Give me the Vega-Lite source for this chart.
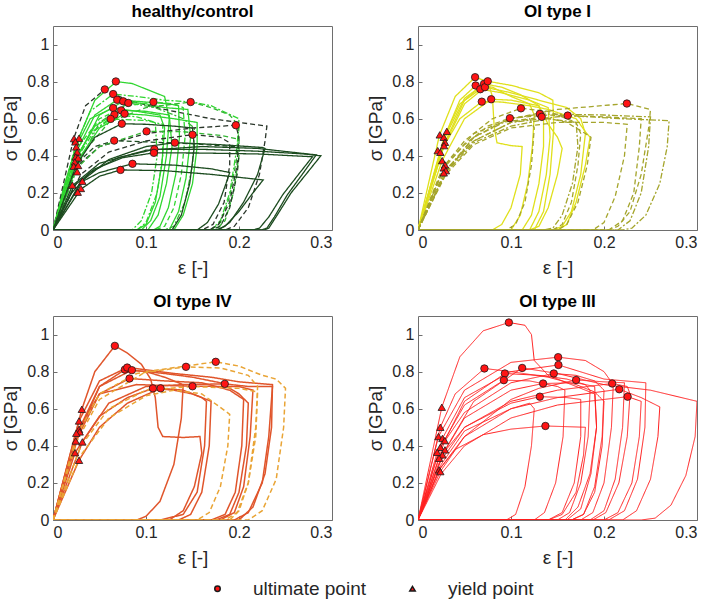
{
"$schema":"https://vega.github.io/schema/vega-lite/v6.json",
"padding":{"left":1,"top":2,"right":5,"bottom":5},
"datasets":{
"meta":[
{"c":"A1","p":"A","k":"hg","d":"s"},{"c":"A2","p":"A","k":"hk","d":"da"},{"c":"A3","p":"A","k":"hg","d":"dd"},{"c":"A4","p":"A","k":"hg","d":"s"},{"c":"A5","p":"A","k":"hg","d":"s"},{"c":"A6","p":"A","k":"hm","d":"dd"},{"c":"A7","p":"A","k":"hg","d":"da"},{"c":"A8","p":"A","k":"hm","d":"da"},{"c":"A9","p":"A","k":"hg","d":"s"},{"c":"A10","p":"A","k":"hg","d":"s"},{"c":"A11","p":"A","k":"hg","d":"dd"},{"c":"A12","p":"A","k":"hg","d":"s"},{"c":"A13","p":"A","k":"hg","d":"dd"},{"c":"A14","p":"A","k":"hd","d":"s"},{"c":"A15","p":"A","k":"hk","d":"da"},{"c":"A16","p":"A","k":"hm","d":"da"},{"c":"A17","p":"A","k":"hk","d":"da"},{"c":"A18","p":"A","k":"hd","d":"da"},{"c":"A19","p":"A","k":"hd","d":"s"},{"c":"A20","p":"A","k":"hd","d":"s"},{"c":"A21","p":"A","k":"hd","d":"s"},{"c":"A22","p":"A","k":"hd","d":"s"},{"c":"A23","p":"A","k":"hd","d":"s"},{"c":"A24","p":"A","k":"hd","d":"s"},
{"c":"B1","p":"B","k":"yy","d":"s"},{"c":"B2","p":"B","k":"yy","d":"s"},{"c":"B3","p":"B","k":"yy","d":"s"},{"c":"B4","p":"B","k":"yy","d":"s"},{"c":"B5","p":"B","k":"yy","d":"s"},{"c":"B6","p":"B","k":"yy","d":"s"},{"c":"B7","p":"B","k":"yy","d":"s"},{"c":"B8","p":"B","k":"yy","d":"s"},{"c":"B9","p":"B","k":"yo","d":"da"},{"c":"B10","p":"B","k":"yo","d":"da"},{"c":"B11","p":"B","k":"yo","d":"dd"},{"c":"B12","p":"B","k":"yo","d":"da"},{"c":"B13","p":"B","k":"yo","d":"dd"},{"c":"B14","p":"B","k":"yo","d":"da"},{"c":"B15","p":"B","k":"yo","d":"da"},{"c":"B16","p":"B","k":"yo","d":"dd"},{"c":"B17","p":"B","k":"yo","d":"da"},
{"c":"C1","p":"C","k":"cr","d":"s"},{"c":"C2","p":"C","k":"cr","d":"s"},{"c":"C3","p":"C","k":"cr","d":"s"},{"c":"C4","p":"C","k":"cr","d":"s"},{"c":"C5","p":"C","k":"cr","d":"s"},{"c":"C6","p":"C","k":"cr","d":"s"},{"c":"C7","p":"C","k":"cr","d":"s"},{"c":"C8","p":"C","k":"cr","d":"s"},{"c":"C9","p":"C","k":"cr","d":"s"},{"c":"C10","p":"C","k":"co","d":"da"},{"c":"C11","p":"C","k":"co","d":"da"},{"c":"C12","p":"C","k":"co","d":"da"},{"c":"C13","p":"C","k":"co","d":"da"},
{"c":"D1","p":"D","k":"rr","d":"s"},{"c":"D2","p":"D","k":"rr","d":"s"},{"c":"D3","p":"D","k":"rr","d":"s"},{"c":"D4","p":"D","k":"rr","d":"s"},{"c":"D5","p":"D","k":"rr","d":"s"},{"c":"D6","p":"D","k":"rr","d":"s"},{"c":"D7","p":"D","k":"rr","d":"s"},{"c":"D8","p":"D","k":"rr","d":"s"},{"c":"D9","p":"D","k":"rr","d":"s"},{"c":"D10","p":"D","k":"rr","d":"s"},{"c":"D11","p":"D","k":"rr","d":"s"},{"c":"D12","p":"D","k":"rr","d":"s"},{"c":"D13","p":"D","k":"rr","d":"s"},{"c":"D14","p":"D","k":"rr","d":"s"},{"c":"D15","p":"D","k":"rr","d":"s"},{"c":"D16","p":"D","k":"rr","d":"s"}
],
"curves":[
{"c":"A1","x":0,"y":0},{"c":"A1","x":0.012,"y":0.24},{"c":"A1","x":0.028,"y":0.5},{"c":"A1","x":0.045,"y":0.7},{"c":"A1","x":0.068,"y":0.8},{"c":"A1","x":0.085,"y":0.79},{"c":"A1","x":0.1,"y":0.76},{"c":"A1","x":0.12,"y":0.72},{"c":"A1","x":0.125,"y":0.6},{"c":"A1","x":0.122,"y":0.4},{"c":"A1","x":0.115,"y":0.18},{"c":"A1","x":0.105,"y":0.05},{"c":"A1","x":0.095,"y":0},{"c":"A1","x":0,"y":0},
{"c":"A2","x":0,"y":0},{"c":"A2","x":0.022,"y":0.49},{"c":"A2","x":0.035,"y":0.67},{"c":"A2","x":0.0557,"y":0.758},{"c":"A2","x":0.08,"y":0.7},{"c":"A2","x":0.12,"y":0.65},{"c":"A2","x":0.17,"y":0.6},{"c":"A2","x":0.23,"y":0.56},{"c":"A2","x":0.228,"y":0.48},{"c":"A2","x":0.222,"y":0.3},{"c":"A2","x":0.21,"y":0.12},{"c":"A2","x":0.195,"y":0.02},{"c":"A2","x":0.185,"y":0},{"c":"A2","x":0,"y":0},
{"c":"A3","x":0,"y":0},{"c":"A3","x":0.024,"y":0.45},{"c":"A3","x":0.04,"y":0.64},{"c":"A3","x":0.0647,"y":0.733},{"c":"A3","x":0.09,"y":0.72},{"c":"A3","x":0.12,"y":0.7},{"c":"A3","x":0.15,"y":0.69},{"c":"A3","x":0.17,"y":0.67},{"c":"A3","x":0.2,"y":0.6},{"c":"A3","x":0.198,"y":0.45},{"c":"A3","x":0.19,"y":0.2},{"c":"A3","x":0.18,"y":0.05},{"c":"A3","x":0.17,"y":0},{"c":"A3","x":0,"y":0},
{"c":"A4","x":0,"y":0},{"c":"A4","x":0.025,"y":0.42},{"c":"A4","x":0.045,"y":0.62},{"c":"A4","x":0.069,"y":0.702},{"c":"A4","x":0.1,"y":0.69},{"c":"A4","x":0.125,"y":0.68},{"c":"A4","x":0.135,"y":0.67},{"c":"A4","x":0.136,"y":0.5},{"c":"A4","x":0.132,"y":0.3},{"c":"A4","x":0.124,"y":0.12},{"c":"A4","x":0.115,"y":0.02},{"c":"A4","x":0.108,"y":0},{"c":"A4","x":0,"y":0},
{"c":"A5","x":0,"y":0},{"c":"A5","x":0.027,"y":0.4},{"c":"A5","x":0.05,"y":0.62},{"c":"A5","x":0.0755,"y":0.694},{"c":"A5","x":0.1,"y":0.68},{"c":"A5","x":0.12,"y":0.66},{"c":"A5","x":0.145,"y":0.65},{"c":"A5","x":0.148,"y":0.5},{"c":"A5","x":0.143,"y":0.28},{"c":"A5","x":0.135,"y":0.1},{"c":"A5","x":0.125,"y":0},{"c":"A5","x":0,"y":0},
{"c":"A6","x":0,"y":0},{"c":"A6","x":0.03,"y":0.38},{"c":"A6","x":0.05,"y":0.58},{"c":"A6","x":0.081,"y":0.685},{"c":"A6","x":0.11,"y":0.66},{"c":"A6","x":0.14,"y":0.6},{"c":"A6","x":0.152,"y":0.55},{"c":"A6","x":0.15,"y":0.35},{"c":"A6","x":0.142,"y":0.15},{"c":"A6","x":0.13,"y":0.02},{"c":"A6","x":0.12,"y":0},{"c":"A6","x":0,"y":0},
{"c":"A7","x":0,"y":0},{"c":"A7","x":0.026,"y":0.44},{"c":"A7","x":0.05,"y":0.6},{"c":"A7","x":0.08,"y":0.67},{"c":"A7","x":0.108,"y":0.69},{"c":"A7","x":0.13,"y":0.68},{"c":"A7","x":0.14,"y":0.66},{"c":"A7","x":0.142,"y":0.5},{"c":"A7","x":0.138,"y":0.3},{"c":"A7","x":0.13,"y":0.12},{"c":"A7","x":0.12,"y":0.02},{"c":"A7","x":0.11,"y":0},{"c":"A7","x":0,"y":0},
{"c":"A8","x":0,"y":0},{"c":"A8","x":0.028,"y":0.39},{"c":"A8","x":0.06,"y":0.58},{"c":"A8","x":0.1,"y":0.66},{"c":"A8","x":0.148,"y":0.69},{"c":"A8","x":0.17,"y":0.66},{"c":"A8","x":0.19,"y":0.62},{"c":"A8","x":0.2,"y":0.56},{"c":"A8","x":0.198,"y":0.4},{"c":"A8","x":0.19,"y":0.18},{"c":"A8","x":0.18,"y":0.04},{"c":"A8","x":0.17,"y":0},{"c":"A8","x":0,"y":0},
{"c":"A9","x":0,"y":0},{"c":"A9","x":0.024,"y":0.44},{"c":"A9","x":0.04,"y":0.6},{"c":"A9","x":0.0647,"y":0.658},{"c":"A9","x":0.09,"y":0.64},{"c":"A9","x":0.115,"y":0.62},{"c":"A9","x":0.12,"y":0.55},{"c":"A9","x":0.117,"y":0.35},{"c":"A9","x":0.11,"y":0.15},{"c":"A9","x":0.1,"y":0.03},{"c":"A9","x":0.09,"y":0},{"c":"A9","x":0,"y":0},
{"c":"A10","x":0,"y":0},{"c":"A10","x":0.026,"y":0.4},{"c":"A10","x":0.045,"y":0.56},{"c":"A10","x":0.0733,"y":0.645},{"c":"A10","x":0.1,"y":0.64},{"c":"A10","x":0.125,"y":0.62},{"c":"A10","x":0.128,"y":0.45},{"c":"A10","x":0.122,"y":0.25},{"c":"A10","x":0.113,"y":0.08},{"c":"A10","x":0.102,"y":0},{"c":"A10","x":0,"y":0},
{"c":"A11","x":0,"y":0},{"c":"A11","x":0.025,"y":0.38},{"c":"A11","x":0.045,"y":0.54},{"c":"A11","x":0.066,"y":0.622},{"c":"A11","x":0.09,"y":0.61},{"c":"A11","x":0.11,"y":0.58},{"c":"A11","x":0.112,"y":0.4},{"c":"A11","x":0.106,"y":0.2},{"c":"A11","x":0.095,"y":0.05},{"c":"A11","x":0.085,"y":0},{"c":"A11","x":0,"y":0},
{"c":"A12","x":0,"y":0},{"c":"A12","x":0.03,"y":0.4},{"c":"A12","x":0.05,"y":0.55},{"c":"A12","x":0.077,"y":0.627},{"c":"A12","x":0.1,"y":0.62},{"c":"A12","x":0.13,"y":0.6},{"c":"A12","x":0.155,"y":0.58},{"c":"A12","x":0.155,"y":0.45},{"c":"A12","x":0.15,"y":0.25},{"c":"A12","x":0.14,"y":0.08},{"c":"A12","x":0.13,"y":0},{"c":"A12","x":0,"y":0},
{"c":"A13","x":0,"y":0},{"c":"A13","x":0.024,"y":0.38},{"c":"A13","x":0.04,"y":0.52},{"c":"A13","x":0.062,"y":0.599},{"c":"A13","x":0.1,"y":0.59},{"c":"A13","x":0.118,"y":0.57},{"c":"A13","x":0.118,"y":0.4},{"c":"A13","x":0.112,"y":0.2},{"c":"A13","x":0.1,"y":0.04},{"c":"A13","x":0.09,"y":0},{"c":"A13","x":0,"y":0},
{"c":"A14","x":0,"y":0},{"c":"A14","x":0.025,"y":0.35},{"c":"A14","x":0.045,"y":0.5},{"c":"A14","x":0.074,"y":0.573},{"c":"A14","x":0.1,"y":0.57},{"c":"A14","x":0.13,"y":0.56},{"c":"A14","x":0.15,"y":0.55},{"c":"A14","x":0.152,"y":0.45},{"c":"A14","x":0.147,"y":0.25},{"c":"A14","x":0.138,"y":0.08},{"c":"A14","x":0.128,"y":0},{"c":"A14","x":0,"y":0},
{"c":"A15","x":0,"y":0},{"c":"A15","x":0.025,"y":0.34},{"c":"A15","x":0.05,"y":0.45},{"c":"A15","x":0.1,"y":0.52},{"c":"A15","x":0.15,"y":0.55},{"c":"A15","x":0.1966,"y":0.565},{"c":"A15","x":0.2,"y":0.5},{"c":"A15","x":0.198,"y":0.35},{"c":"A15","x":0.19,"y":0.15},{"c":"A15","x":0.178,"y":0.03},{"c":"A15","x":0.168,"y":0},{"c":"A15","x":0,"y":0},
{"c":"A16","x":0,"y":0},{"c":"A16","x":0.025,"y":0.33},{"c":"A16","x":0.05,"y":0.45},{"c":"A16","x":0.1006,"y":0.532},{"c":"A16","x":0.14,"y":0.53},{"c":"A16","x":0.18,"y":0.51},{"c":"A16","x":0.2,"y":0.49},{"c":"A16","x":0.2,"y":0.4},{"c":"A16","x":0.194,"y":0.2},{"c":"A16","x":0.185,"y":0.05},{"c":"A16","x":0.175,"y":0},{"c":"A16","x":0,"y":0},
{"c":"A17","x":0,"y":0},{"c":"A17","x":0.03,"y":0.3},{"c":"A17","x":0.06,"y":0.42},{"c":"A17","x":0.1,"y":0.48},{"c":"A17","x":0.15,"y":0.514},{"c":"A17","x":0.18,"y":0.5},{"c":"A17","x":0.19,"y":0.47},{"c":"A17","x":0.19,"y":0.35},{"c":"A17","x":0.184,"y":0.15},{"c":"A17","x":0.172,"y":0.03},{"c":"A17","x":0.16,"y":0},{"c":"A17","x":0,"y":0},
{"c":"A18","x":0,"y":0},{"c":"A18","x":0.026,"y":0.36},{"c":"A18","x":0.045,"y":0.45},{"c":"A18","x":0.0658,"y":0.482},{"c":"A18","x":0.1,"y":0.475},{"c":"A18","x":0.15,"y":0.465},{"c":"A18","x":0.195,"y":0.45},{"c":"A18","x":0.2,"y":0.4},{"c":"A18","x":0.198,"y":0.3},{"c":"A18","x":0.19,"y":0.12},{"c":"A18","x":0.18,"y":0.02},{"c":"A18","x":0.17,"y":0},{"c":"A18","x":0,"y":0},
{"c":"A19","x":0,"y":0},{"c":"A19","x":0.03,"y":0.26},{"c":"A19","x":0.06,"y":0.38},{"c":"A19","x":0.1,"y":0.45},{"c":"A19","x":0.131,"y":0.471},{"c":"A19","x":0.18,"y":0.46},{"c":"A19","x":0.225,"y":0.445},{"c":"A19","x":0.228,"y":0.44},{"c":"A19","x":0.22,"y":0.3},{"c":"A19","x":0.205,"y":0.15},{"c":"A19","x":0.19,"y":0.04},{"c":"A19","x":0.178,"y":0},{"c":"A19","x":0,"y":0},
{"c":"A20","x":0,"y":0},{"c":"A20","x":0.02,"y":0.2},{"c":"A20","x":0.04,"y":0.31},{"c":"A20","x":0.07,"y":0.39},{"c":"A20","x":0.109,"y":0.435},{"c":"A20","x":0.16,"y":0.435},{"c":"A20","x":0.22,"y":0.425},{"c":"A20","x":0.27,"y":0.41},{"c":"A20","x":0.288,"y":0.4},{"c":"A20","x":0.272,"y":0.3},{"c":"A20","x":0.256,"y":0.2},{"c":"A20","x":0.241,"y":0.08},{"c":"A20","x":0.232,"y":0.01},{"c":"A20","x":0.227,"y":0},{"c":"A20","x":0,"y":0},
{"c":"A21","x":0,"y":0},{"c":"A21","x":0.023,"y":0.24},{"c":"A21","x":0.045,"y":0.33},{"c":"A21","x":0.075,"y":0.39},{"c":"A21","x":0.1085,"y":0.416},{"c":"A21","x":0.16,"y":0.415},{"c":"A21","x":0.22,"y":0.41},{"c":"A21","x":0.279,"y":0.395},{"c":"A21","x":0.264,"y":0.3},{"c":"A21","x":0.247,"y":0.19},{"c":"A21","x":0.232,"y":0.07},{"c":"A21","x":0.222,"y":0.01},{"c":"A21","x":0.215,"y":0},{"c":"A21","x":0,"y":0},
{"c":"A22","x":0,"y":0},{"c":"A22","x":0.031,"y":0.26},{"c":"A22","x":0.05,"y":0.31},{"c":"A22","x":0.0855,"y":0.357},{"c":"A22","x":0.13,"y":0.35},{"c":"A22","x":0.17,"y":0.33},{"c":"A22","x":0.19,"y":0.31},{"c":"A22","x":0.186,"y":0.25},{"c":"A22","x":0.178,"y":0.14},{"c":"A22","x":0.166,"y":0.04},{"c":"A22","x":0.155,"y":0},{"c":"A22","x":0,"y":0},
{"c":"A23","x":0,"y":0},{"c":"A23","x":0.03,"y":0.22},{"c":"A23","x":0.05,"y":0.29},{"c":"A23","x":0.0726,"y":0.324},{"c":"A23","x":0.12,"y":0.32},{"c":"A23","x":0.17,"y":0.3},{"c":"A23","x":0.226,"y":0.27},{"c":"A23","x":0.215,"y":0.2},{"c":"A23","x":0.2,"y":0.1},{"c":"A23","x":0.185,"y":0.02},{"c":"A23","x":0.175,"y":0},{"c":"A23","x":0,"y":0},
{"c":"A24","x":0,"y":0},{"c":"A24","x":0.021,"y":0.24},{"c":"A24","x":0.05,"y":0.36},{"c":"A24","x":0.1,"y":0.43},{"c":"A24","x":0.16,"y":0.45},{"c":"A24","x":0.22,"y":0.44},{"c":"A24","x":0.283,"y":0.405},{"c":"A24","x":0.268,"y":0.3},{"c":"A24","x":0.252,"y":0.19},{"c":"A24","x":0.238,"y":0.07},{"c":"A24","x":0.23,"y":0.01},{"c":"A24","x":0.224,"y":0},{"c":"A24","x":0,"y":0},
{"c":"B1","x":0,"y":0},{"c":"B1","x":0.023,"y":0.51},{"c":"B1","x":0.04,"y":0.72},{"c":"B1","x":0.0614,"y":0.824},{"c":"B1","x":0.075,"y":0.8},{"c":"B1","x":0.08,"y":0.72},{"c":"B1","x":0.082,"y":0.55},{"c":"B1","x":0.085,"y":0.47},{"c":"B1","x":0.1,"y":0.455},{"c":"B1","x":0.112,"y":0.45},{"c":"B1","x":0.11,"y":0.3},{"c":"B1","x":0.1,"y":0.12},{"c":"B1","x":0.09,"y":0.03},{"c":"B1","x":0.08,"y":0},{"c":"B1","x":0,"y":0},
{"c":"B2","x":0,"y":0},{"c":"B2","x":0.031,"y":0.532},{"c":"B2","x":0.045,"y":0.7},{"c":"B2","x":0.062,"y":0.779},{"c":"B2","x":0.08,"y":0.77},{"c":"B2","x":0.1,"y":0.72},{"c":"B2","x":0.12,"y":0.68},{"c":"B2","x":0.125,"y":0.62},{"c":"B2","x":0.123,"y":0.45},{"c":"B2","x":0.118,"y":0.25},{"c":"B2","x":0.11,"y":0.08},{"c":"B2","x":0.1,"y":0},{"c":"B2","x":0,"y":0},
{"c":"B3","x":0,"y":0},{"c":"B3","x":0.028,"y":0.5},{"c":"B3","x":0.045,"y":0.68},{"c":"B3","x":0.067,"y":0.759},{"c":"B3","x":0.09,"y":0.74},{"c":"B3","x":0.12,"y":0.7},{"c":"B3","x":0.14,"y":0.66},{"c":"B3","x":0.142,"y":0.5},{"c":"B3","x":0.138,"y":0.3},{"c":"B3","x":0.13,"y":0.1},{"c":"B3","x":0.12,"y":0},{"c":"B3","x":0,"y":0},
{"c":"B4","x":0,"y":0},{"c":"B4","x":0.029,"y":0.473},{"c":"B4","x":0.05,"y":0.7},{"c":"B4","x":0.071,"y":0.788},{"c":"B4","x":0.09,"y":0.77},{"c":"B4","x":0.11,"y":0.73},{"c":"B4","x":0.13,"y":0.67},{"c":"B4","x":0.14,"y":0.57},{"c":"B4","x":0.15,"y":0.5},{"c":"B4","x":0.155,"y":0.44},{"c":"B4","x":0.15,"y":0.3},{"c":"B4","x":0.14,"y":0.12},{"c":"B4","x":0.13,"y":0.02},{"c":"B4","x":0.12,"y":0},{"c":"B4","x":0,"y":0},
{"c":"B5","x":0,"y":0},{"c":"B5","x":0.028,"y":0.455},{"c":"B5","x":0.05,"y":0.68},{"c":"B5","x":0.072,"y":0.77},{"c":"B5","x":0.1,"y":0.74},{"c":"B5","x":0.13,"y":0.7},{"c":"B5","x":0.16,"y":0.66},{"c":"B5","x":0.175,"y":0.6},{"c":"B5","x":0.18,"y":0.52},{"c":"B5","x":0.175,"y":0.3},{"c":"B5","x":0.165,"y":0.1},{"c":"B5","x":0.155,"y":0.02},{"c":"B5","x":0.145,"y":0},{"c":"B5","x":0,"y":0},
{"c":"B6","x":0,"y":0},{"c":"B6","x":0.029,"y":0.5},{"c":"B6","x":0.05,"y":0.71},{"c":"B6","x":0.075,"y":0.802},{"c":"B6","x":0.1,"y":0.78},{"c":"B6","x":0.13,"y":0.74},{"c":"B6","x":0.145,"y":0.7},{"c":"B6","x":0.146,"y":0.55},{"c":"B6","x":0.142,"y":0.3},{"c":"B6","x":0.135,"y":0.1},{"c":"B6","x":0.125,"y":0},{"c":"B6","x":0,"y":0},
{"c":"B7","x":0,"y":0},{"c":"B7","x":0.024,"y":0.42},{"c":"B7","x":0.045,"y":0.6},{"c":"B7","x":0.0686,"y":0.692},{"c":"B7","x":0.09,"y":0.69},{"c":"B7","x":0.12,"y":0.67},{"c":"B7","x":0.14,"y":0.65},{"c":"B7","x":0.17,"y":0.6},{"c":"B7","x":0.18,"y":0.53},{"c":"B7","x":0.185,"y":0.5},{"c":"B7","x":0.18,"y":0.35},{"c":"B7","x":0.17,"y":0.15},{"c":"B7","x":0.16,"y":0.03},{"c":"B7","x":0.15,"y":0},{"c":"B7","x":0,"y":0},
{"c":"B8","x":0,"y":0},{"c":"B8","x":0.026,"y":0.374},{"c":"B8","x":0.05,"y":0.6},{"c":"B8","x":0.0787,"y":0.705},{"c":"B8","x":0.1,"y":0.7},{"c":"B8","x":0.13,"y":0.67},{"c":"B8","x":0.135,"y":0.6},{"c":"B8","x":0.135,"y":0.45},{"c":"B8","x":0.13,"y":0.25},{"c":"B8","x":0.122,"y":0.08},{"c":"B8","x":0.112,"y":0},{"c":"B8","x":0,"y":0},
{"c":"B9","x":0,"y":0},{"c":"B9","x":0.029,"y":0.351},{"c":"B9","x":0.05,"y":0.48},{"c":"B9","x":0.08,"y":0.6},{"c":"B9","x":0.1107,"y":0.656},{"c":"B9","x":0.14,"y":0.64},{"c":"B9","x":0.17,"y":0.58},{"c":"B9","x":0.175,"y":0.52},{"c":"B9","x":0.172,"y":0.35},{"c":"B9","x":0.165,"y":0.15},{"c":"B9","x":0.155,"y":0.03},{"c":"B9","x":0.145,"y":0},{"c":"B9","x":0,"y":0},
{"c":"B10","x":0,"y":0},{"c":"B10","x":0.028,"y":0.335},{"c":"B10","x":0.05,"y":0.46},{"c":"B10","x":0.075,"y":0.56},{"c":"B10","x":0.0988,"y":0.603},{"c":"B10","x":0.14,"y":0.62},{"c":"B10","x":0.2,"y":0.61},{"c":"B10","x":0.24,"y":0.6},{"c":"B10","x":0.238,"y":0.45},{"c":"B10","x":0.232,"y":0.2},{"c":"B10","x":0.22,"y":0.05},{"c":"B10","x":0.205,"y":0},{"c":"B10","x":0,"y":0},
{"c":"B11","x":0,"y":0},{"c":"B11","x":0.03,"y":0.32},{"c":"B11","x":0.06,"y":0.5},{"c":"B11","x":0.1,"y":0.6},{"c":"B11","x":0.131,"y":0.626},{"c":"B11","x":0.2,"y":0.62},{"c":"B11","x":0.25,"y":0.61},{"c":"B11","x":0.248,"y":0.45},{"c":"B11","x":0.24,"y":0.2},{"c":"B11","x":0.228,"y":0.05},{"c":"B11","x":0.215,"y":0},{"c":"B11","x":0,"y":0},
{"c":"B12","x":0,"y":0},{"c":"B12","x":0.0277,"y":0.308},{"c":"B12","x":0.06,"y":0.48},{"c":"B12","x":0.1,"y":0.58},{"c":"B12","x":0.133,"y":0.61},{"c":"B12","x":0.16,"y":0.58},{"c":"B12","x":0.18,"y":0.52},{"c":"B12","x":0.186,"y":0.5},{"c":"B12","x":0.182,"y":0.35},{"c":"B12","x":0.172,"y":0.15},{"c":"B12","x":0.16,"y":0.03},{"c":"B12","x":0.15,"y":0},{"c":"B12","x":0,"y":0},
{"c":"B13","x":0,"y":0},{"c":"B13","x":0.025,"y":0.3},{"c":"B13","x":0.06,"y":0.48},{"c":"B13","x":0.1,"y":0.58},{"c":"B13","x":0.161,"y":0.617},{"c":"B13","x":0.22,"y":0.6},{"c":"B13","x":0.27,"y":0.59},{"c":"B13","x":0.268,"y":0.45},{"c":"B13","x":0.26,"y":0.25},{"c":"B13","x":0.245,"y":0.08},{"c":"B13","x":0.23,"y":0.01},{"c":"B13","x":0.22,"y":0},{"c":"B13","x":0,"y":0},
{"c":"B14","x":0,"y":0},{"c":"B14","x":0.026,"y":0.33},{"c":"B14","x":0.06,"y":0.52},{"c":"B14","x":0.1,"y":0.6},{"c":"B14","x":0.15,"y":0.65},{"c":"B14","x":0.2246,"y":0.682},{"c":"B14","x":0.25,"y":0.65},{"c":"B14","x":0.248,"y":0.55},{"c":"B14","x":0.24,"y":0.3},{"c":"B14","x":0.228,"y":0.1},{"c":"B14","x":0.215,"y":0.02},{"c":"B14","x":0.205,"y":0},{"c":"B14","x":0,"y":0},
{"c":"B15","x":0,"y":0},{"c":"B15","x":0.03,"y":0.3},{"c":"B15","x":0.06,"y":0.46},{"c":"B15","x":0.1,"y":0.55},{"c":"B15","x":0.15,"y":0.58},{"c":"B15","x":0.2,"y":0.58},{"c":"B15","x":0.225,"y":0.57},{"c":"B15","x":0.222,"y":0.4},{"c":"B15","x":0.212,"y":0.18},{"c":"B15","x":0.2,"y":0.04},{"c":"B15","x":0.188,"y":0},{"c":"B15","x":0,"y":0},
{"c":"B16","x":0,"y":0},{"c":"B16","x":0.03,"y":0.31},{"c":"B16","x":0.06,"y":0.47},{"c":"B16","x":0.1,"y":0.56},{"c":"B16","x":0.14,"y":0.6},{"c":"B16","x":0.17,"y":0.58},{"c":"B16","x":0.172,"y":0.45},{"c":"B16","x":0.166,"y":0.25},{"c":"B16","x":0.155,"y":0.08},{"c":"B16","x":0.145,"y":0.01},{"c":"B16","x":0.135,"y":0},{"c":"B16","x":0,"y":0},
{"c":"B17","x":0,"y":0},{"c":"B17","x":0.03,"y":0.31},{"c":"B17","x":0.06,"y":0.5},{"c":"B17","x":0.09,"y":0.58},{"c":"B17","x":0.12,"y":0.6},{"c":"B17","x":0.125,"y":0.55},{"c":"B17","x":0.122,"y":0.35},{"c":"B17","x":0.115,"y":0.15},{"c":"B17","x":0.105,"y":0.03},{"c":"B17","x":0.095,"y":0},{"c":"B17","x":0,"y":0},
{"c":"C1","x":0,"y":0},{"c":"C1","x":0.031,"y":0.597},{"c":"C1","x":0.045,"y":0.8},{"c":"C1","x":0.0665,"y":0.939},{"c":"C1","x":0.08,"y":0.9},{"c":"C1","x":0.095,"y":0.84},{"c":"C1","x":0.105,"y":0.76},{"c":"C1","x":0.11,"y":0.66},{"c":"C1","x":0.113,"y":0.5},{"c":"C1","x":0.118,"y":0.45},{"c":"C1","x":0.14,"y":0.445},{"c":"C1","x":0.158,"y":0.45},{"c":"C1","x":0.16,"y":0.36},{"c":"C1","x":0.152,"y":0.18},{"c":"C1","x":0.14,"y":0.05},{"c":"C1","x":0.125,"y":0},{"c":"C1","x":0,"y":0},
{"c":"C2","x":0,"y":0},{"c":"C2","x":0.028,"y":0.534},{"c":"C2","x":0.05,"y":0.75},{"c":"C2","x":0.0798,"y":0.822},{"c":"C2","x":0.1,"y":0.81},{"c":"C2","x":0.13,"y":0.79},{"c":"C2","x":0.17,"y":0.77},{"c":"C2","x":0.2,"y":0.745},{"c":"C2","x":0.236,"y":0.73},{"c":"C2","x":0.235,"y":0.5},{"c":"C2","x":0.228,"y":0.25},{"c":"C2","x":0.215,"y":0.07},{"c":"C2","x":0.2,"y":0},{"c":"C2","x":0,"y":0},
{"c":"C3","x":0,"y":0},{"c":"C3","x":0.0287,"y":0.475},{"c":"C3","x":0.05,"y":0.72},{"c":"C3","x":0.0773,"y":0.811},{"c":"C3","x":0.1,"y":0.8},{"c":"C3","x":0.12,"y":0.77},{"c":"C3","x":0.135,"y":0.74},{"c":"C3","x":0.14,"y":0.73},{"c":"C3","x":0.138,"y":0.55},{"c":"C3","x":0.13,"y":0.3},{"c":"C3","x":0.115,"y":0.1},{"c":"C3","x":0.1,"y":0.02},{"c":"C3","x":0.09,"y":0},{"c":"C3","x":0,"y":0},
{"c":"C4","x":0,"y":0},{"c":"C4","x":0.028,"y":0.489},{"c":"C4","x":0.05,"y":0.72},{"c":"C4","x":0.0848,"y":0.808},{"c":"C4","x":0.12,"y":0.79},{"c":"C4","x":0.15,"y":0.77},{"c":"C4","x":0.18,"y":0.74},{"c":"C4","x":0.2,"y":0.68},{"c":"C4","x":0.21,"y":0.63},{"c":"C4","x":0.208,"y":0.4},{"c":"C4","x":0.2,"y":0.15},{"c":"C4","x":0.19,"y":0.03},{"c":"C4","x":0.175,"y":0},{"c":"C4","x":0,"y":0},
{"c":"C5","x":0,"y":0},{"c":"C5","x":0.0244,"y":0.426},{"c":"C5","x":0.05,"y":0.68},{"c":"C5","x":0.0823,"y":0.763},{"c":"C5","x":0.12,"y":0.75},{"c":"C5","x":0.16,"y":0.74},{"c":"C5","x":0.19,"y":0.7},{"c":"C5","x":0.205,"y":0.65},{"c":"C5","x":0.203,"y":0.4},{"c":"C5","x":0.196,"y":0.15},{"c":"C5","x":0.185,"y":0.03},{"c":"C5","x":0.17,"y":0},{"c":"C5","x":0,"y":0},
{"c":"C6","x":0,"y":0},{"c":"C6","x":0.0237,"y":0.363},{"c":"C6","x":0.05,"y":0.56},{"c":"C6","x":0.08,"y":0.66},{"c":"C6","x":0.1074,"y":0.71},{"c":"C6","x":0.13,"y":0.7},{"c":"C6","x":0.15,"y":0.68},{"c":"C6","x":0.17,"y":0.64},{"c":"C6","x":0.168,"y":0.4},{"c":"C6","x":0.16,"y":0.15},{"c":"C6","x":0.148,"y":0.03},{"c":"C6","x":0.135,"y":0},{"c":"C6","x":0,"y":0},
{"c":"C7","x":0,"y":0},{"c":"C7","x":0.028,"y":0.322},{"c":"C7","x":0.05,"y":0.5},{"c":"C7","x":0.08,"y":0.63},{"c":"C7","x":0.1157,"y":0.71},{"c":"C7","x":0.14,"y":0.7},{"c":"C7","x":0.16,"y":0.66},{"c":"C7","x":0.165,"y":0.64},{"c":"C7","x":0.163,"y":0.4},{"c":"C7","x":0.155,"y":0.15},{"c":"C7","x":0.14,"y":0.03},{"c":"C7","x":0.115,"y":0},{"c":"C7","x":0,"y":0},
{"c":"C8","x":0,"y":0},{"c":"C8","x":0.025,"y":0.468},{"c":"C8","x":0.05,"y":0.68},{"c":"C8","x":0.09,"y":0.73},{"c":"C8","x":0.15,"y":0.721},{"c":"C8","x":0.2,"y":0.72},{"c":"C8","x":0.215,"y":0.7},{"c":"C8","x":0.212,"y":0.45},{"c":"C8","x":0.205,"y":0.18},{"c":"C8","x":0.195,"y":0.04},{"c":"C8","x":0.18,"y":0},{"c":"C8","x":0,"y":0},
{"c":"C9","x":0,"y":0},{"c":"C9","x":0.0316,"y":0.421},{"c":"C9","x":0.06,"y":0.63},{"c":"C9","x":0.1,"y":0.72},{"c":"C9","x":0.14,"y":0.73},{"c":"C9","x":0.1847,"y":0.734},{"c":"C9","x":0.21,"y":0.72},{"c":"C9","x":0.236,"y":0.72},{"c":"C9","x":0.232,"y":0.45},{"c":"C9","x":0.225,"y":0.2},{"c":"C9","x":0.21,"y":0.04},{"c":"C9","x":0.195,"y":0},{"c":"C9","x":0,"y":0},
{"c":"C10","x":0,"y":0},{"c":"C10","x":0.025,"y":0.45},{"c":"C10","x":0.05,"y":0.68},{"c":"C10","x":0.09,"y":0.79},{"c":"C10","x":0.143,"y":0.826},{"c":"C10","x":0.18,"y":0.82},{"c":"C10","x":0.21,"y":0.78},{"c":"C10","x":0.22,"y":0.72},{"c":"C10","x":0.218,"y":0.5},{"c":"C10","x":0.21,"y":0.2},{"c":"C10","x":0.198,"y":0.04},{"c":"C10","x":0.185,"y":0},{"c":"C10","x":0,"y":0},
{"c":"C11","x":0,"y":0},{"c":"C11","x":0.025,"y":0.42},{"c":"C11","x":0.05,"y":0.65},{"c":"C11","x":0.1,"y":0.8},{"c":"C11","x":0.175,"y":0.853},{"c":"C11","x":0.2,"y":0.83},{"c":"C11","x":0.225,"y":0.78},{"c":"C11","x":0.24,"y":0.76},{"c":"C11","x":0.25,"y":0.71},{"c":"C11","x":0.248,"y":0.5},{"c":"C11","x":0.24,"y":0.22},{"c":"C11","x":0.225,"y":0.05},{"c":"C11","x":0.21,"y":0},{"c":"C11","x":0,"y":0},
{"c":"C12","x":0,"y":0},{"c":"C12","x":0.03,"y":0.35},{"c":"C12","x":0.06,"y":0.55},{"c":"C12","x":0.1,"y":0.67},{"c":"C12","x":0.13,"y":0.7},{"c":"C12","x":0.16,"y":0.68},{"c":"C12","x":0.19,"y":0.57},{"c":"C12","x":0.188,"y":0.4},{"c":"C12","x":0.18,"y":0.18},{"c":"C12","x":0.168,"y":0.04},{"c":"C12","x":0.155,"y":0},{"c":"C12","x":0,"y":0},
{"c":"C13","x":0,"y":0},{"c":"C13","x":0.03,"y":0.4},{"c":"C13","x":0.06,"y":0.6},{"c":"C13","x":0.1,"y":0.7},{"c":"C13","x":0.15,"y":0.72},{"c":"C13","x":0.2,"y":0.71},{"c":"C13","x":0.22,"y":0.69},{"c":"C13","x":0.218,"y":0.45},{"c":"C13","x":0.21,"y":0.2},{"c":"C13","x":0.2,"y":0.05},{"c":"C13","x":0.19,"y":0},{"c":"C13","x":0,"y":0},
{"c":"D1","x":0,"y":0},{"c":"D1","x":0.0256,"y":0.608},{"c":"D1","x":0.045,"y":0.88},{"c":"D1","x":0.07,"y":1.02},{"c":"D1","x":0.0977,"y":1.065},{"c":"D1","x":0.115,"y":1.05},{"c":"D1","x":0.122,"y":1.0},{"c":"D1","x":0.125,"y":0.86},{"c":"D1","x":0.14,"y":0.78},{"c":"D1","x":0.17,"y":0.72},{"c":"D1","x":0.19,"y":0.68},{"c":"D1","x":0.192,"y":0.5},{"c":"D1","x":0.185,"y":0.25},{"c":"D1","x":0.172,"y":0.07},{"c":"D1","x":0.158,"y":0},{"c":"D1","x":0,"y":0},
{"c":"D2","x":0,"y":0},{"c":"D2","x":0.024,"y":0.5},{"c":"D2","x":0.04,"y":0.68},{"c":"D2","x":0.0714,"y":0.817},{"c":"D2","x":0.1,"y":0.8},{"c":"D2","x":0.14,"y":0.77},{"c":"D2","x":0.17,"y":0.73},{"c":"D2","x":0.19,"y":0.69},{"c":"D2","x":0.2,"y":0.64},{"c":"D2","x":0.198,"y":0.4},{"c":"D2","x":0.19,"y":0.15},{"c":"D2","x":0.178,"y":0.03},{"c":"D2","x":0.165,"y":0},{"c":"D2","x":0,"y":0},
{"c":"D3","x":0,"y":0},{"c":"D3","x":0.022,"y":0.45},{"c":"D3","x":0.05,"y":0.7},{"c":"D3","x":0.1,"y":0.85},{"c":"D3","x":0.1507,"y":0.878},{"c":"D3","x":0.18,"y":0.86},{"c":"D3","x":0.2,"y":0.8},{"c":"D3","x":0.21,"y":0.73},{"c":"D3","x":0.208,"y":0.5},{"c":"D3","x":0.2,"y":0.2},{"c":"D3","x":0.188,"y":0.04},{"c":"D3","x":0.175,"y":0},{"c":"D3","x":0,"y":0},
{"c":"D4","x":0,"y":0},{"c":"D4","x":0.0263,"y":0.44},{"c":"D4","x":0.05,"y":0.66},{"c":"D4","x":0.1,"y":0.8},{"c":"D4","x":0.151,"y":0.836},{"c":"D4","x":0.2,"y":0.76},{"c":"D4","x":0.245,"y":0.74},{"c":"D4","x":0.244,"y":0.5},{"c":"D4","x":0.236,"y":0.22},{"c":"D4","x":0.222,"y":0.05},{"c":"D4","x":0.205,"y":0},{"c":"D4","x":0,"y":0},
{"c":"D5","x":0,"y":0},{"c":"D5","x":0.0288,"y":0.428},{"c":"D5","x":0.05,"y":0.64},{"c":"D5","x":0.0934,"y":0.79},{"c":"D5","x":0.13,"y":0.78},{"c":"D5","x":0.16,"y":0.76},{"c":"D5","x":0.18,"y":0.73},{"c":"D5","x":0.185,"y":0.7},{"c":"D5","x":0.183,"y":0.45},{"c":"D5","x":0.175,"y":0.2},{"c":"D5","x":0.163,"y":0.04},{"c":"D5","x":0.15,"y":0},{"c":"D5","x":0,"y":0},
{"c":"D6","x":0,"y":0},{"c":"D6","x":0.024,"y":0.392},{"c":"D6","x":0.05,"y":0.62},{"c":"D6","x":0.0923,"y":0.754},{"c":"D6","x":0.12,"y":0.75},{"c":"D6","x":0.15,"y":0.72},{"c":"D6","x":0.158,"y":0.7},{"c":"D6","x":0.156,"y":0.45},{"c":"D6","x":0.148,"y":0.2},{"c":"D6","x":0.136,"y":0.04},{"c":"D6","x":0.125,"y":0},{"c":"D6","x":0,"y":0},
{"c":"D7","x":0,"y":0},{"c":"D7","x":0.029,"y":0.378},{"c":"D7","x":0.06,"y":0.64},{"c":"D7","x":0.112,"y":0.82},{"c":"D7","x":0.15,"y":0.79},{"c":"D7","x":0.2,"y":0.73},{"c":"D7","x":0.25,"y":0.7},{"c":"D7","x":0.3,"y":0.64},{"c":"D7","x":0.298,"y":0.45},{"c":"D7","x":0.288,"y":0.24},{"c":"D7","x":0.272,"y":0.08},{"c":"D7","x":0.255,"y":0.01},{"c":"D7","x":0.24,"y":0},{"c":"D7","x":0,"y":0},
{"c":"D8","x":0,"y":0},{"c":"D8","x":0.0206,"y":0.365},{"c":"D8","x":0.05,"y":0.58},{"c":"D8","x":0.1,"y":0.74},{"c":"D8","x":0.146,"y":0.79},{"c":"D8","x":0.17,"y":0.78},{"c":"D8","x":0.19,"y":0.75},{"c":"D8","x":0.2,"y":0.7},{"c":"D8","x":0.198,"y":0.45},{"c":"D8","x":0.19,"y":0.18},{"c":"D8","x":0.178,"y":0.03},{"c":"D8","x":0.165,"y":0},{"c":"D8","x":0,"y":0},
{"c":"D9","x":0,"y":0},{"c":"D9","x":0.0263,"y":0.351},{"c":"D9","x":0.05,"y":0.55},{"c":"D9","x":0.1,"y":0.7},{"c":"D9","x":0.1345,"y":0.736},{"c":"D9","x":0.17,"y":0.74},{"c":"D9","x":0.19,"y":0.72},{"c":"D9","x":0.192,"y":0.5},{"c":"D9","x":0.186,"y":0.25},{"c":"D9","x":0.175,"y":0.06},{"c":"D9","x":0.16,"y":0},{"c":"D9","x":0,"y":0},
{"c":"D10","x":0,"y":0},{"c":"D10","x":0.0227,"y":0.333},{"c":"D10","x":0.05,"y":0.5},{"c":"D10","x":0.1,"y":0.63},{"c":"D10","x":0.131,"y":0.665},{"c":"D10","x":0.16,"y":0.66},{"c":"D10","x":0.175,"y":0.65},{"c":"D10","x":0.175,"y":0.45},{"c":"D10","x":0.168,"y":0.2},{"c":"D10","x":0.155,"y":0.04},{"c":"D10","x":0.14,"y":0},{"c":"D10","x":0,"y":0},
{"c":"D11","x":0,"y":0},{"c":"D11","x":0.0227,"y":0.27},{"c":"D11","x":0.04,"y":0.38},{"c":"D11","x":0.07,"y":0.46},{"c":"D11","x":0.1,"y":0.49},{"c":"D11","x":0.137,"y":0.507},{"c":"D11","x":0.18,"y":0.5},{"c":"D11","x":0.178,"y":0.35},{"c":"D11","x":0.17,"y":0.15},{"c":"D11","x":0.155,"y":0.03},{"c":"D11","x":0.14,"y":0},{"c":"D11","x":0,"y":0},
{"c":"D12","x":0,"y":0},{"c":"D12","x":0.024,"y":0.261},{"c":"D12","x":0.05,"y":0.45},{"c":"D12","x":0.1,"y":0.65},{"c":"D12","x":0.13,"y":0.71},{"c":"D12","x":0.17,"y":0.755},{"c":"D12","x":0.2,"y":0.745},{"c":"D12","x":0.222,"y":0.74},{"c":"D12","x":0.22,"y":0.5},{"c":"D12","x":0.212,"y":0.22},{"c":"D12","x":0.2,"y":0.05},{"c":"D12","x":0.185,"y":0},{"c":"D12","x":0,"y":0},
{"c":"D13","x":0,"y":0},{"c":"D13","x":0.022,"y":0.3},{"c":"D13","x":0.05,"y":0.5},{"c":"D13","x":0.1,"y":0.64},{"c":"D13","x":0.15,"y":0.7},{"c":"D13","x":0.2088,"y":0.736},{"c":"D13","x":0.225,"y":0.72},{"c":"D13","x":0.228,"y":0.68},{"c":"D13","x":0.225,"y":0.45},{"c":"D13","x":0.216,"y":0.2},{"c":"D13","x":0.202,"y":0.04},{"c":"D13","x":0.188,"y":0},{"c":"D13","x":0,"y":0},
{"c":"D14","x":0,"y":0},{"c":"D14","x":0.024,"y":0.28},{"c":"D14","x":0.05,"y":0.45},{"c":"D14","x":0.1,"y":0.6},{"c":"D14","x":0.15,"y":0.66},{"c":"D14","x":0.2164,"y":0.705},{"c":"D14","x":0.24,"y":0.66},{"c":"D14","x":0.26,"y":0.61},{"c":"D14","x":0.258,"y":0.45},{"c":"D14","x":0.25,"y":0.22},{"c":"D14","x":0.235,"y":0.05},{"c":"D14","x":0.22,"y":0},{"c":"D14","x":0,"y":0},
{"c":"D15","x":0,"y":0},{"c":"D15","x":0.025,"y":0.25},{"c":"D15","x":0.05,"y":0.4},{"c":"D15","x":0.1,"y":0.55},{"c":"D15","x":0.15,"y":0.62},{"c":"D15","x":0.2,"y":0.65},{"c":"D15","x":0.2254,"y":0.665},{"c":"D15","x":0.24,"y":0.64},{"c":"D15","x":0.238,"y":0.45},{"c":"D15","x":0.23,"y":0.2},{"c":"D15","x":0.215,"y":0.04},{"c":"D15","x":0.2,"y":0},{"c":"D15","x":0,"y":0},
{"c":"D16","x":0,"y":0},{"c":"D16","x":0.025,"y":0.3},{"c":"D16","x":0.05,"y":0.48},{"c":"D16","x":0.1,"y":0.6},{"c":"D16","x":0.12,"y":0.63},{"c":"D16","x":0.125,"y":0.6},{"c":"D16","x":0.122,"y":0.4},{"c":"D16","x":0.115,"y":0.18},{"c":"D16","x":0.105,"y":0.03},{"c":"D16","x":0.095,"y":0},{"c":"D16","x":0,"y":0}
],
"pts":[
{"p":"A","t":"ultimate point","x":0.0557,"y":0.758},{"p":"A","t":"ultimate point","x":0.0676,"y":0.801},{"p":"A","t":"ultimate point","x":0.0647,"y":0.733},{"p":"A","t":"ultimate point","x":0.069,"y":0.702},{"p":"A","t":"ultimate point","x":0.0755,"y":0.694},{"p":"A","t":"ultimate point","x":0.081,"y":0.685},{"p":"A","t":"ultimate point","x":0.108,"y":0.69},{"p":"A","t":"ultimate point","x":0.148,"y":0.69},{"p":"A","t":"ultimate point","x":0.0647,"y":0.658},{"p":"A","t":"ultimate point","x":0.0733,"y":0.645},{"p":"A","t":"ultimate point","x":0.066,"y":0.622},{"p":"A","t":"ultimate point","x":0.077,"y":0.627},{"p":"A","t":"ultimate point","x":0.062,"y":0.599},{"p":"A","t":"ultimate point","x":0.074,"y":0.573},{"p":"A","t":"ultimate point","x":0.1966,"y":0.565},{"p":"A","t":"ultimate point","x":0.1006,"y":0.532},{"p":"A","t":"ultimate point","x":0.15,"y":0.514},{"p":"A","t":"ultimate point","x":0.131,"y":0.471},{"p":"A","t":"ultimate point","x":0.0658,"y":0.482},{"p":"A","t":"ultimate point","x":0.109,"y":0.435},{"p":"A","t":"ultimate point","x":0.1085,"y":0.416},{"p":"A","t":"ultimate point","x":0.0855,"y":0.357},{"p":"A","t":"ultimate point","x":0.0726,"y":0.324},
{"p":"A","t":"yield point","x":0.0226,"y":0.493},{"p":"A","t":"yield point","x":0.028,"y":0.495},{"p":"A","t":"yield point","x":0.024,"y":0.475},{"p":"A","t":"yield point","x":0.025,"y":0.448},{"p":"A","t":"yield point","x":0.026,"y":0.42},{"p":"A","t":"yield point","x":0.0244,"y":0.394},{"p":"A","t":"yield point","x":0.027,"y":0.389},{"p":"A","t":"yield point","x":0.0234,"y":0.367},{"p":"A","t":"yield point","x":0.0223,"y":0.344},{"p":"A","t":"yield point","x":0.027,"y":0.348},{"p":"A","t":"yield point","x":0.026,"y":0.314},{"p":"A","t":"yield point","x":0.0316,"y":0.263},{"p":"A","t":"yield point","x":0.0208,"y":0.242},{"p":"A","t":"yield point","x":0.03,"y":0.224},{"p":"A","t":"yield point","x":0.0266,"y":0.204},
{"p":"B","t":"ultimate point","x":0.0614,"y":0.824},{"p":"B","t":"ultimate point","x":0.062,"y":0.779},{"p":"B","t":"ultimate point","x":0.067,"y":0.759},{"p":"B","t":"ultimate point","x":0.071,"y":0.788},{"p":"B","t":"ultimate point","x":0.072,"y":0.77},{"p":"B","t":"ultimate point","x":0.075,"y":0.802},{"p":"B","t":"ultimate point","x":0.0686,"y":0.692},{"p":"B","t":"ultimate point","x":0.0787,"y":0.705},{"p":"B","t":"ultimate point","x":0.1107,"y":0.656},{"p":"B","t":"ultimate point","x":0.0988,"y":0.603},{"p":"B","t":"ultimate point","x":0.131,"y":0.626},{"p":"B","t":"ultimate point","x":0.133,"y":0.61},{"p":"B","t":"ultimate point","x":0.161,"y":0.617},{"p":"B","t":"ultimate point","x":0.2246,"y":0.682},
{"p":"B","t":"yield point","x":0.0234,"y":0.513},{"p":"B","t":"yield point","x":0.031,"y":0.532},{"p":"B","t":"yield point","x":0.0277,"y":0.5},{"p":"B","t":"yield point","x":0.029,"y":0.473},{"p":"B","t":"yield point","x":0.028,"y":0.455},{"p":"B","t":"yield point","x":0.0212,"y":0.428},{"p":"B","t":"yield point","x":0.024,"y":0.419},{"p":"B","t":"yield point","x":0.026,"y":0.374},{"p":"B","t":"yield point","x":0.029,"y":0.351},{"p":"B","t":"yield point","x":0.0277,"y":0.335},{"p":"B","t":"yield point","x":0.03,"y":0.32},{"p":"B","t":"yield point","x":0.0277,"y":0.308},
{"p":"C","t":"ultimate point","x":0.0665,"y":0.939},{"p":"C","t":"ultimate point","x":0.0773,"y":0.811},{"p":"C","t":"ultimate point","x":0.0798,"y":0.822},{"p":"C","t":"ultimate point","x":0.0848,"y":0.808},{"p":"C","t":"ultimate point","x":0.0823,"y":0.763},{"p":"C","t":"ultimate point","x":0.1074,"y":0.71},{"p":"C","t":"ultimate point","x":0.1157,"y":0.71},{"p":"C","t":"ultimate point","x":0.143,"y":0.826},{"p":"C","t":"ultimate point","x":0.175,"y":0.853},{"p":"C","t":"ultimate point","x":0.15,"y":0.721},{"p":"C","t":"ultimate point","x":0.1847,"y":0.734},
{"p":"C","t":"yield point","x":0.031,"y":0.597},{"p":"C","t":"yield point","x":0.028,"y":0.534},{"p":"C","t":"yield point","x":0.028,"y":0.489},{"p":"C","t":"yield point","x":0.0287,"y":0.475},{"p":"C","t":"yield point","x":0.025,"y":0.468},{"p":"C","t":"yield point","x":0.0244,"y":0.426},{"p":"C","t":"yield point","x":0.0316,"y":0.421},{"p":"C","t":"yield point","x":0.0237,"y":0.363},{"p":"C","t":"yield point","x":0.028,"y":0.322},
{"p":"D","t":"ultimate point","x":0.0977,"y":1.065},{"p":"D","t":"ultimate point","x":0.0714,"y":0.817},{"p":"D","t":"ultimate point","x":0.0934,"y":0.79},{"p":"D","t":"ultimate point","x":0.0923,"y":0.754},{"p":"D","t":"ultimate point","x":0.112,"y":0.82},{"p":"D","t":"ultimate point","x":0.1507,"y":0.878},{"p":"D","t":"ultimate point","x":0.151,"y":0.836},{"p":"D","t":"ultimate point","x":0.146,"y":0.79},{"p":"D","t":"ultimate point","x":0.1345,"y":0.736},{"p":"D","t":"ultimate point","x":0.131,"y":0.665},{"p":"D","t":"ultimate point","x":0.137,"y":0.507},{"p":"D","t":"ultimate point","x":0.17,"y":0.755},{"p":"D","t":"ultimate point","x":0.2088,"y":0.736},{"p":"D","t":"ultimate point","x":0.2164,"y":0.705},{"p":"D","t":"ultimate point","x":0.2254,"y":0.665},
{"p":"D","t":"yield point","x":0.0256,"y":0.608},{"p":"D","t":"yield point","x":0.024,"y":0.5},{"p":"D","t":"yield point","x":0.022,"y":0.45},{"p":"D","t":"yield point","x":0.0263,"y":0.44},{"p":"D","t":"yield point","x":0.0288,"y":0.428},{"p":"D","t":"yield point","x":0.024,"y":0.392},{"p":"D","t":"yield point","x":0.029,"y":0.378},{"p":"D","t":"yield point","x":0.0206,"y":0.365},{"p":"D","t":"yield point","x":0.0263,"y":0.351},{"p":"D","t":"yield point","x":0.0227,"y":0.333},{"p":"D","t":"yield point","x":0.0227,"y":0.27},{"p":"D","t":"yield point","x":0.024,"y":0.261}
]
},
"columns":2,
"spacing":{"row":14,"column":33},
"concat":[
{"title":"healthy/control","width":279,"height":204,"layer":[
 {"data":{"name":"curves"},"transform":[{"lookup":"c","from":{"data":{"name":"meta"},"key":"c","fields":["p","k","d"]}},{"filter":"datum.p==='A'"}],
  "mark":{"type":"line","strokeWidth":1.3,"clip":true},
  "encoding":{"x":{"field":"x","type":"quantitative","scale":{"domain":[0,0.3]},"axis":{"values":[0,0.1,0.2,0.3],"format":"~g","title":"ε [-]"}},
   "y":{"field":"y","type":"quantitative","scale":{"domain":[0,1.1]},"axis":{"values":[0,0.2,0.4,0.6,0.8,1],"format":"~g","title":"σ [GPa]"}},
   "detail":{"field":"c"},"order":{"value":null},
   "color":{"field":"k","type":"nominal","legend":null,"scale":{"domain":["hg","hm","hd","hk","yy","yo","cr","co","rr"],"range":["#2fd62f","#33b533","#1c4b1f","#2a362a","#e0e01c","#a5a52c","#e0552b","#e9a435","#ff1f1f"]}},
   "strokeDash":{"field":"d","type":"nominal","legend":null,"scale":{"domain":["s","da","dd"],"range":[[1,0],[5,3],[6,2,2,2]]}}}},
 {"data":{"name":"pts"},"transform":[{"filter":"datum.p==='A'"}],
  "mark":{"type":"point","filled":true,"fill":"#ff1414","stroke":"#1a1a1a","strokeWidth":0.8,"size":55,"opacity":1},
  "encoding":{"x":{"field":"x","type":"quantitative"},"y":{"field":"y","type":"quantitative"},
   "shape":{"field":"t","type":"nominal","scale":{"domain":["ultimate point","yield point"],"range":["circle","triangle-up"]},
    "legend":{"title":null,"orient":"none","legendX":155,"legendY":553,"direction":"horizontal","labelFontSize":19,"labelColor":"#262626","symbolSize":30,"labelOffset":26,"columnPadding":36,
     "encode":{"symbols":{"update":{"strokeWidth":{"value":0},"fill":{"value":"#ff1414"},"opacity":{"value":1}}}}}}}}
]},
{"title":"OI type I","width":279,"height":204,"layer":[
 {"data":{"name":"curves"},"transform":[{"lookup":"c","from":{"data":{"name":"meta"},"key":"c","fields":["p","k","d"]}},{"filter":"datum.p==='B'"}],
  "mark":{"type":"line","strokeWidth":1.3,"clip":true},
  "encoding":{"x":{"field":"x","type":"quantitative","scale":{"domain":[0,0.3]},"axis":{"values":[0,0.1,0.2,0.3],"format":"~g","title":"ε [-]"}},
   "y":{"field":"y","type":"quantitative","scale":{"domain":[0,1.1]},"axis":{"values":[0,0.2,0.4,0.6,0.8,1],"format":"~g","title":"σ [GPa]"}},
   "detail":{"field":"c"},"order":{"value":null},
   "color":{"field":"k","type":"nominal","legend":null},
   "strokeDash":{"field":"d","type":"nominal","legend":null}}},
 {"data":{"name":"pts"},"transform":[{"filter":"datum.p==='B'"}],
  "mark":{"type":"point","filled":true,"fill":"#ff1414","stroke":"#1a1a1a","strokeWidth":0.8,"size":55,"opacity":1},
  "encoding":{"x":{"field":"x","type":"quantitative"},"y":{"field":"y","type":"quantitative"},"shape":{"field":"t","type":"nominal"}}}
]},
{"title":"OI type IV","width":279,"height":204,"layer":[
 {"data":{"name":"curves"},"transform":[{"lookup":"c","from":{"data":{"name":"meta"},"key":"c","fields":["p","k","d"]}},{"filter":"datum.p==='C'"}],
  "mark":{"type":"line","strokeWidth":1.5,"clip":true},
  "encoding":{"x":{"field":"x","type":"quantitative","scale":{"domain":[0,0.3]},"axis":{"values":[0,0.1,0.2,0.3],"format":"~g","title":"ε [-]"}},
   "y":{"field":"y","type":"quantitative","scale":{"domain":[0,1.1]},"axis":{"values":[0,0.2,0.4,0.6,0.8,1],"format":"~g","title":"σ [GPa]"}},
   "detail":{"field":"c"},"order":{"value":null},
   "color":{"field":"k","type":"nominal","legend":null},
   "strokeDash":{"field":"d","type":"nominal","legend":null}}},
 {"data":{"name":"pts"},"transform":[{"filter":"datum.p==='C'"}],
  "mark":{"type":"point","filled":true,"fill":"#ff1414","stroke":"#1a1a1a","strokeWidth":0.8,"size":55,"opacity":1},
  "encoding":{"x":{"field":"x","type":"quantitative"},"y":{"field":"y","type":"quantitative"},"shape":{"field":"t","type":"nominal"}}}
]},
{"title":"OI type III","width":279,"height":204,"layer":[
 {"data":{"name":"curves"},"transform":[{"lookup":"c","from":{"data":{"name":"meta"},"key":"c","fields":["p","k","d"]}},{"filter":"datum.p==='D'"}],
  "mark":{"type":"line","strokeWidth":1,"clip":true},
  "encoding":{"x":{"field":"x","type":"quantitative","scale":{"domain":[0,0.3]},"axis":{"values":[0,0.1,0.2,0.3],"format":"~g","title":"ε [-]"}},
   "y":{"field":"y","type":"quantitative","scale":{"domain":[0,1.1]},"axis":{"values":[0,0.2,0.4,0.6,0.8,1],"format":"~g","title":"σ [GPa]"}},
   "detail":{"field":"c"},"order":{"value":null},
   "color":{"field":"k","type":"nominal","legend":null},
   "strokeDash":{"field":"d","type":"nominal","legend":null}}},
 {"data":{"name":"pts"},"transform":[{"filter":"datum.p==='D'"}],
  "mark":{"type":"point","filled":true,"fill":"#ff1414","stroke":"#1a1a1a","strokeWidth":0.8,"size":55,"opacity":1},
  "encoding":{"x":{"field":"x","type":"quantitative"},"y":{"field":"y","type":"quantitative"},"shape":{"field":"t","type":"nominal"}}}
]}
],
"config":{
 "font":"Liberation Sans",
 "view":{"stroke":"#6e6e6e","strokeWidth":1},
 "axis":{"grid":false,"domain":false,"labelFontSize":16,"labelColor":"#262626","titleFontSize":19,"titleFontWeight":"normal","titleColor":"#262626","tickColor":"#6e6e6e","tickSize":-4,"labelPadding":8},
 "axisX":{"titlePadding":8},
 "axisY":{"titlePadding":6},
 "title":{"fontSize":17,"fontWeight":"bold","color":"#000000","offset":5}
}
}
